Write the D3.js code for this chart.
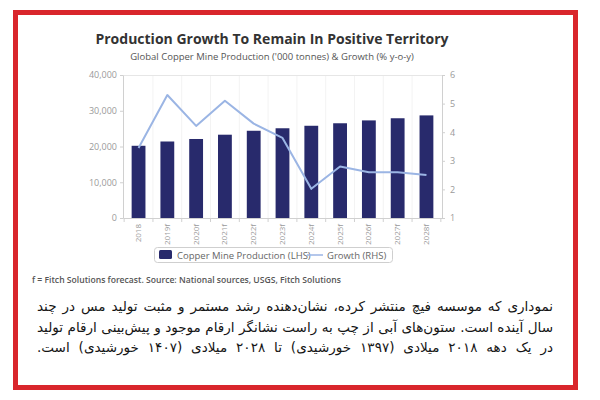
<!DOCTYPE html>
<html>
<head>
<meta charset="utf-8">
<script src="https://cdn.jsdelivr.net/npm/d3@7"></script>
<style>
  html, body { margin: 0; padding: 0; background: #fff; }
  svg { display: block; }
</style>
</head>
<body>
<svg id="chart" width="600" height="400"></svg>
<script>
const categories = ["2018","2019f","2020f","2021f","2022f","2023f","2024f","2025f","2026f","2027f","2028f"];
const production = [20200, 21400, 22100, 23300, 24400, 25100, 25800, 26500, 27300, 27900, 28700];
const growth = [3.45, 5.3, 4.22, 5.1, 4.3, 3.8, 2.02, 2.8, 2.6, 2.6, 2.5];
const leftTicks = [0, 10000, 20000, 30000, 40000];
const rightTicks = [1, 2, 3, 4, 5, 6];
const legendLabels = ["Copper Mine Production (LHS)", "Growth (RHS)"];
const titleText = "Production Growth To Remain In Positive Territory";
const subtitleText = "Global Copper Mine Production ('000 tonnes) & Growth (% y-o-y)";
const footnoteText = "f = Fitch Solutions forecast. Source: National sources, USGS, Fitch Solutions";
const captionLines = [
  "نموداری که موسسه فیچ منتشر کرده، نشان‌دهنده رشد مستمر و مثبت تولید مس در چند",
  "سال آینده است. ستون‌های آبی از چپ به راست نشانگر ارقام موجود و پیش‌بینی ارقام تولید",
  "در یک دهه ۲۰۱۸ میلادی (۱۳۹۷ خورشیدی) تا ۲۰۲۸ میلادی (۱۴۰۷ خورشیدی) است."
];

const svg = d3.select("#chart");
const font = "'Open Sans', 'DejaVu Sans', sans-serif";
const barColor = "#282a6c";
const lineColor = "#9bb5e4";
const axisColor = "#d0d0d0";
const tickTextColor = "#9a9a9a";

// red frame
svg.append("rect")
  .attr("x", 15.5).attr("y", 12.5).attr("width", 560).attr("height", 375)
  .attr("fill", "none").attr("stroke", "#d9262c").attr("stroke-width", 5);

// titles
svg.append("text").attr("x", 272).attr("y", 44).attr("text-anchor", "middle")
  .attr("font-family", font).attr("font-weight", 700).attr("font-size", 14)
  .attr("fill", "#333").text(titleText);
svg.append("text").attr("x", 272).attr("y", 60).attr("text-anchor", "middle")
  .attr("font-family", font).attr("font-size", 9.5)
  .attr("fill", "#555").text(subtitleText);

const plot = { left: 123, right: 442, top: 75, bottom: 218 };

const x = d3.scaleBand().domain(categories)
  .range([plot.left, plot.right]).paddingInner(0.52).paddingOuter(0.3);
const yL = d3.scaleLinear().domain([0, 40000]).range([plot.bottom, plot.top]);
const yR = d3.scaleLinear().domain([1, 6]).range([plot.bottom, plot.top]);

// faint vertical grid at band boundaries
const step = x.step();
const gap = step - x.bandwidth();
svg.append("g").selectAll("line").data(categories.slice(1)).join("line")
  .attr("x1", d => x(d) - gap / 2).attr("x2", d => x(d) - gap / 2)
  .attr("y1", plot.top).attr("y2", plot.bottom)
  .attr("stroke", "#f3f3f3").attr("stroke-width", 1);

// top line
svg.append("line").attr("x1", plot.left).attr("x2", plot.right)
  .attr("y1", plot.top + 0.5).attr("y2", plot.top + 0.5)
  .attr("stroke", "#e6e6e6");

// bars
svg.append("g").selectAll("rect").data(categories).join("rect")
  .attr("x", d => x(d)).attr("width", x.bandwidth())
  .attr("y", (d, i) => yL(production[i]))
  .attr("height", (d, i) => plot.bottom - yL(production[i]))
  .attr("fill", barColor);

// line
const line = d3.line()
  .x((d, i) => x(categories[i]) + x.bandwidth() / 2)
  .y(d => yR(d));
svg.append("path").datum(growth).attr("d", line)
  .attr("fill", "none").attr("stroke", lineColor).attr("stroke-width", 2)
  .attr("stroke-linejoin", "round");

function styleAxis(g) {
  g.selectAll(".domain").attr("stroke", axisColor);
  g.selectAll(".tick line").attr("stroke", axisColor);
  g.selectAll(".tick text").attr("fill", tickTextColor)
    .attr("font-family", font).attr("font-size", 9);
}

// left axis
svg.append("g").attr("transform", `translate(${plot.left},0)`)
  .call(d3.axisLeft(yL).tickValues(leftTicks).tickFormat(d3.format(","))
    .tickSize(3).tickSizeOuter(0).tickPadding(3))
  .call(styleAxis);

// right axis
svg.append("g").attr("transform", `translate(${plot.right},0)`)
  .call(d3.axisRight(yR).tickValues(rightTicks).tickFormat(d3.format("d"))
    .tickSize(3).tickSizeOuter(0).tickPadding(5))
  .call(styleAxis);

// bottom axis
const gx = svg.append("g").attr("transform", `translate(0,${plot.bottom})`)
  .call(d3.axisBottom(x).tickSize(0).tickSizeOuter(0).tickPadding(6))
  .call(styleAxis);
gx.selectAll(".tick text")
  .attr("transform", "rotate(-90)")
  .attr("text-anchor", "end")
  .attr("x", -6).attr("y", 0).attr("dy", "0.32em")
  .attr("font-size", 8);
svg.append("g").selectAll("line").data(categories.concat(["__end"])).join("line")
  .attr("x1", (d, i) => i < categories.length ? x(d) - gap / 2 : x(categories[categories.length - 1]) + x.bandwidth() + gap / 2)
  .attr("x2", (d, i) => i < categories.length ? x(d) - gap / 2 : x(categories[categories.length - 1]) + x.bandwidth() + gap / 2)
  .attr("y1", plot.bottom).attr("y2", plot.bottom + 4)
  .attr("stroke", axisColor);

// legend
const lg = svg.append("g");
lg.append("rect").attr("x", 154.5).attr("y", 247.5).attr("width", 238).attr("height", 15)
  .attr("rx", 3).attr("fill", "#fff").attr("stroke", "#cfcfcf");
lg.append("rect").attr("x", 159).attr("y", 250).attr("width", 13).attr("height", 9)
  .attr("rx", 1.5).attr("fill", barColor);
lg.append("text").attr("x", 177).attr("y", 258.5)
  .attr("font-family", font).attr("font-size", 9.5).attr("fill", "#666")
  .text(legendLabels[0]);
lg.append("line").attr("x1", 307).attr("x2", 323).attr("y1", 255).attr("y2", 255)
  .attr("stroke", lineColor).attr("stroke-width", 1.5);
lg.append("text").attr("x", 327).attr("y", 258.5)
  .attr("font-family", font).attr("font-size", 9.5).attr("fill", "#666")
  .text(legendLabels[1]);

// footnote
svg.append("text").attr("x", 32).attr("y", 283)
  .attr("font-family", font).attr("font-size", 8.6).attr("font-weight", 600)
  .attr("fill", "#555").text(footnoteText);

// Persian caption, justified per line (font sized so the longest line fits)
const capLeft = 37, capRight = 553, capW = capRight - capLeft;
const capY = [311, 332, 352];
let capSize = 15;
const probe = svg.append("text").attr("font-family", "'DejaVu Sans', sans-serif")
  .attr("direction", "rtl").attr("font-size", capSize);
let maxLen = 0;
captionLines.forEach(t => { probe.text(t); maxLen = Math.max(maxLen, probe.node().getComputedTextLength()); });
probe.remove();
if (maxLen > capW - 2) capSize = capSize * (capW - 2) / maxLen;

captionLines.forEach((t, i) => {
  const tx = svg.append("text")
    .attr("x", (capLeft + capRight) / 2).attr("y", capY[i])
    .attr("text-anchor", "middle")
    .attr("direction", "rtl")
    .style("unicode-bidi", "embed")
    .attr("font-family", "'DejaVu Sans', sans-serif")
    .attr("font-size", capSize)
    .attr("fill", "#151515")
    .text(t);
  const len = tx.node().getComputedTextLength();
  const spaces = (t.match(/ /g) || []).length;
  if (spaces > 0 && len < capW) tx.attr("word-spacing", (capW - len) / spaces);
});
</script>
</body>
</html>
